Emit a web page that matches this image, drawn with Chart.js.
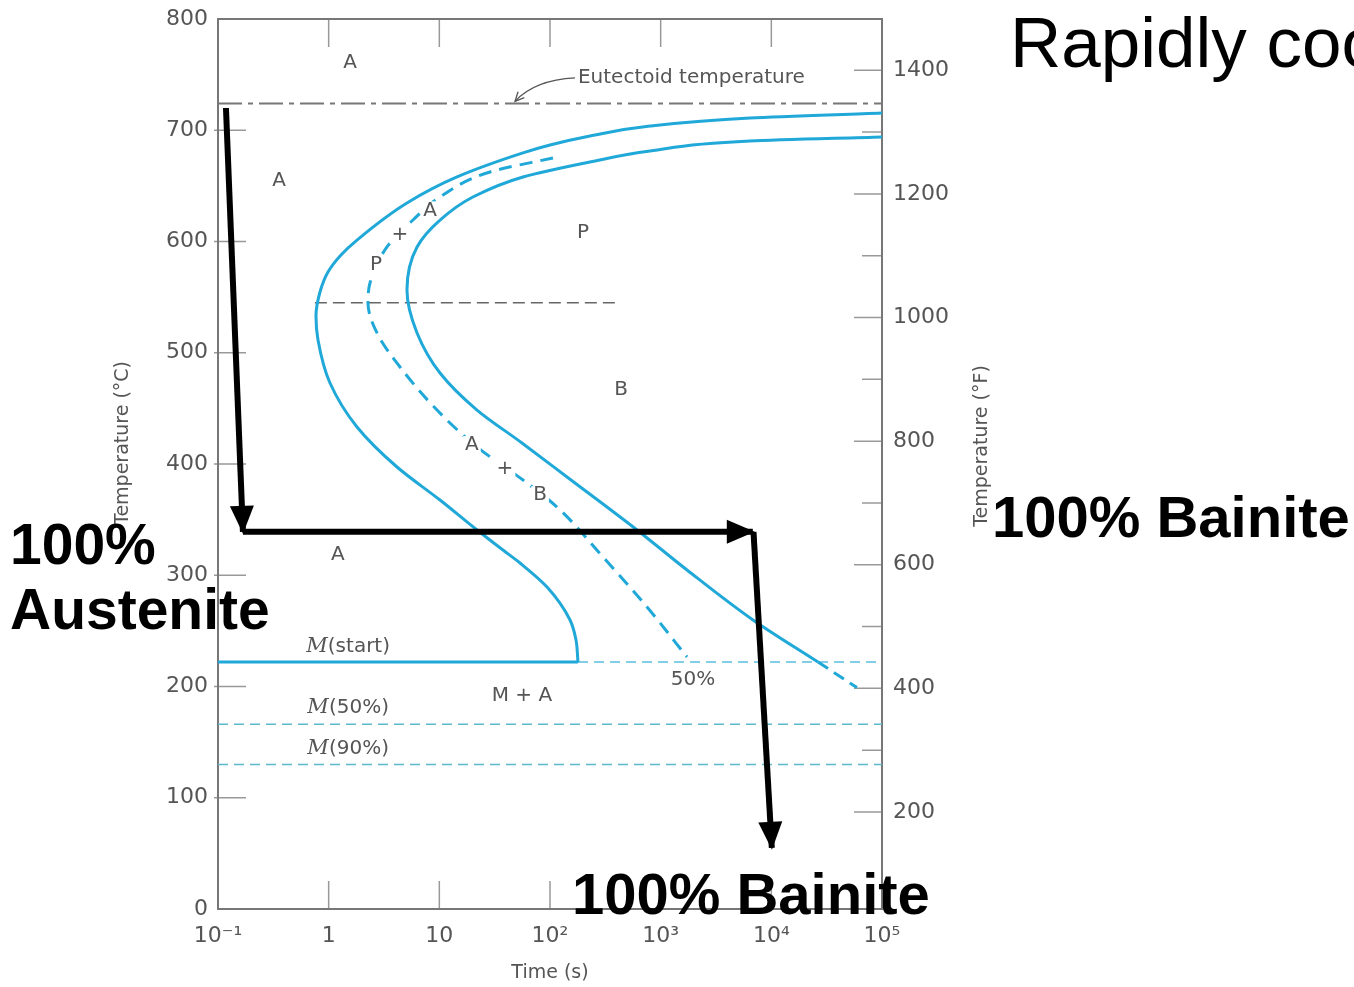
<!DOCTYPE html>
<html>
<head>
<meta charset="utf-8">
<script src="https://cdn.jsdelivr.net/npm/chart.js@4.4.0/dist/chart.umd.min.js"></script>
<style>
html, body { margin: 0; padding: 0; background: #fff; overflow: hidden; }
canvas { display: block; }
</style>
</head>
<body>
<canvas id="ttt" width="1354" height="987"></canvas>
<script>
// times in s, temperatures in °C
const startTime = [1e5, 6412, 801, 230, 100, 57, 14.45, 5.1, 1.803, 1.292, 0.986, 0.835, 0.768, 0.801, 1.028, 1.803, 4.145, 10.14, 21.9, 37.6, 53.6, 94, 151.7, 171.8, 179];
const startTemp = [715.5, 711, 703.8, 694.8, 686.7, 679.6, 658, 634.6, 601.3, 587.9, 572.6, 554.6, 533, 511.5, 472.8, 433.3, 397.3, 367.6, 340.7, 322.7, 311, 289.4, 259.8, 241.8, 222];
const halfTime = [106.4, 28.7, 10.14, 5.78, 3.365, 2.363, 2.267, 2.733, 4.412, 9.53, 21.9, 57, 115.7, 301.3, 752.5, 1730];
const halfTemp = [675.1, 662.5, 640, 619.3, 595.1, 562.7, 544.7, 517.8, 487.2, 448.5, 415.3, 385.6, 361.3, 316.4, 271.5, 226.5];
const finishTime = [1e5, 6412, 801, 230, 57, 20.1, 10.14, 6.29, 5.1, 6.29, 10.14, 21.9, 55.8, 142.5, 611, 1730, 6825, 26400];
const finishTemp = [693.9, 690.3, 681.3, 671.5, 658, 640, 619.3, 595.1, 556.4, 517.8, 481.8, 448.5, 418.9, 388.3, 340.7, 304.7, 259.8, 222];
const finishLowTime = [26400, 59400];
const finishLowTemp = [222, 199];

const msTemp = 222, m50Temp = 166, m90Temp = 130;
const eutectoidTemp = 724, noseTemp = 545;
const timeMin = 0.1, timeMax = 1e5;
const msSolidEnd = 179;
const noseLineTime = [0.75, 386];

// the cooling path drawn over the diagram
const coolTime = [0.118, 0.168];
const coolTemp = [720, 339];
const holdTime = [0.168, 6800];
const holdTemp = [339, 339];
const quenchTime = [6900, 10100];
const quenchTemp = [339, 55];

const timeTicks = [0.1, 1, 10, 100, 1000, 1e4, 1e5];
const timeTickLabels = ['10⁻¹', '1', '10', '10²', '10³', '10⁴', '10⁵'];
const celsiusTicks = [0, 100, 200, 300, 400, 500, 600, 700, 800];
const fahrenheitTicks = [200, 400, 600, 800, 1000, 1200, 1400];
const fahrenheitMinor = [300, 500, 700, 900, 1100, 1300];

const regionLabels = ['A', 'A', 'A', '+', 'P', 'P', 'B', 'A', '+', 'B', 'A', 'M + A', '50%'];
const regionTime = [1.56, 0.356, 8.24, 4.41, 2.68, 199, 438, 19.7, 39.2, 81.3, 1.21, 55.8, 1960];
const regionTemp = [761, 655, 628, 606, 579, 608, 467, 417, 396, 372, 318, 192, 206];
const martLabels = ['(start)', '(50%)', '(90%)'];
const martTemp = [236, 181, 144];
const martTime = 1.5;

const cyan = '#1fa8d8';

function pts(ts, ys) {
    return ts.map((t, i) => ({ x: t, y: ys[i] }));
}
function hline(t0, t1, y) {
    return [{ x: t0, y: y }, { x: t1, y: y }];
}
// C-curves: time is single valued in temperature, so interpolate along y
function cCurve(ts, ys, extra) {
    return Object.assign({
        data: pts(ts, ys),
        indexAxis: 'y',
        cubicInterpolationMode: 'monotone',
        borderColor: cyan,
        borderWidth: 3
    }, extra);
}

const tickFont = { family: 'DejaVu Sans', size: 22 };

const overlayPlugin = {
    id: 'overlay',
    beforeDatasetsDraw(chart) {
        const ctx = chart.ctx;
        const a = chart.chartArea;
        const sx = chart.scales.x, sy = chart.scales.y, sf = chart.scales.y2;
        ctx.save();
        ctx.strokeStyle = '#999';
        ctx.lineWidth = 1.5;
        ctx.beginPath();
        celsiusTicks.slice(1, -1).forEach(v => {
            const y = sy.getPixelForValue(v);
            ctx.moveTo(a.left - 4, y); ctx.lineTo(a.left + 28, y);
        });
        timeTicks.slice(1, -1).forEach(v => {
            const x = sx.getPixelForValue(v);
            ctx.moveTo(x, a.bottom); ctx.lineTo(x, a.bottom - 28);
            ctx.moveTo(x, a.top); ctx.lineTo(x, a.top + 28);
        });
        fahrenheitTicks.forEach(v => {
            const y = sf.getPixelForValue(v);
            ctx.moveTo(a.right, y); ctx.lineTo(a.right - 28, y);
        });
        fahrenheitMinor.forEach(v => {
            const y = sf.getPixelForValue(v);
            ctx.moveTo(a.right, y); ctx.lineTo(a.right - 20, y);
        });
        ctx.stroke();
        ctx.strokeStyle = '#777';
        ctx.lineWidth = 2;
        ctx.strokeRect(a.left, a.top, a.right - a.left, a.bottom - a.top);
        ctx.restore();
    },
    afterDatasetsDraw(chart) {
        const ctx = chart.ctx;
        const sx = chart.scales.x, sy = chart.scales.y;
        const px = t => sx.getPixelForValue(t);
        const py = v => sy.getPixelForValue(v);
        ctx.save();

        // arrow heads at the end of the black path segments
        chart.data.datasets.forEach(ds => {
            if (!ds.arrow) return;
            const d = ds.data;
            const p1 = d[d.length - 2], p2 = d[d.length - 1];
            const x1 = px(p1.x), y1 = py(p1.y), x2 = px(p2.x), y2 = py(p2.y);
            const ang = Math.atan2(y2 - y1, x2 - x1);
            ctx.save();
            ctx.translate(x2, y2);
            ctx.rotate(ang);
            ctx.fillStyle = '#000';
            ctx.beginPath();
            ctx.moveTo(2, 0);
            ctx.lineTo(-26, -12);
            ctx.lineTo(-26, 12);
            ctx.closePath();
            ctx.fill();
            ctx.restore();
        });

        // region labels
        ctx.font = '20px "DejaVu Sans"';
        ctx.textAlign = 'center';
        ctx.textBaseline = 'middle';
        regionLabels.forEach((s, i) => {
            const x = px(regionTime[i]), y = py(regionTemp[i]);
            const w = ctx.measureText(s).width;
            if (s.length === 1) {
                ctx.fillStyle = '#fff';
                ctx.fillRect(x - w / 2 - 2, y - 9, w + 4, 18);
            }
            ctx.fillStyle = '#555';
            ctx.fillText(s, x, y);
        });

        // martensite labels: italic M + text
        martLabels.forEach((s, i) => {
            ctx.font = 'italic 21px "DejaVu Serif"';
            const wm = ctx.measureText('M').width;
            ctx.font = '20px "DejaVu Sans"';
            const wt = ctx.measureText(s).width;
            const x0 = px(martTime) - (wm + wt) / 2, y = py(martTemp[i]);
            ctx.textAlign = 'left';
            ctx.fillStyle = '#555';
            ctx.font = 'italic 21px "DejaVu Serif"';
            ctx.fillText('M', x0, y);
            ctx.font = '20px "DejaVu Sans"';
            ctx.fillText(s, x0 + wm, y);
        });

        // eutectoid annotation
        const tx = px(168), ty = py(747);
        const hx = px(48.3), hy = py(eutectoidTemp + 2);
        ctx.strokeStyle = '#555';
        ctx.lineWidth = 1.3;
        ctx.beginPath();
        ctx.moveTo(tx, ty);
        ctx.quadraticCurveTo(tx - 40, ty + 2, hx, hy);
        ctx.stroke();
        const ang = Math.atan2(hy - (ty + 2), hx - (tx - 40));
        ctx.beginPath();
        ctx.moveTo(hx + 10 * Math.cos(ang + 2.7), hy + 10 * Math.sin(ang + 2.7));
        ctx.lineTo(hx, hy);
        ctx.lineTo(hx + 10 * Math.cos(ang - 2.7), hy + 10 * Math.sin(ang - 2.7));
        ctx.stroke();
        ctx.fillStyle = '#555';
        ctx.font = '20px "DejaVu Sans"';
        ctx.textAlign = 'left';
        ctx.fillText('Eutectoid temperature', tx + 3, ty);

        // axis titles
        ctx.font = '19px "DejaVu Sans"';
        ctx.textAlign = 'center';
        ctx.fillStyle = '#555';
        ctx.fillText('Time (s)', 550, 973);
        ctx.save();
        ctx.translate(123, 443);
        ctx.rotate(-Math.PI / 2);
        ctx.fillText('Temperature (°C)', 0, 0);
        ctx.restore();
        ctx.save();
        ctx.translate(982, 446);
        ctx.rotate(-Math.PI / 2);
        ctx.fillText('Temperature (°F)', 0, 0);
        ctx.restore();

        // slide text
        ctx.fillStyle = '#000';
        ctx.textAlign = 'left';
        ctx.textBaseline = 'alphabetic';
        ctx.font = 'bold 57px "Liberation Sans"';
        ctx.fillText('100%', 10, 564);
        ctx.fillText('Austenite', 10, 629);
        ctx.font = 'bold 58px "Liberation Sans"';
        ctx.fillText('100% Bainite', 572, 914);
        ctx.fillText('100% Bainite', 992, 537);
        ctx.font = '71px "Liberation Sans"';
        ctx.fillText('Rapidly cooled', 1010, 67);
        ctx.restore();
    }
};

function noPad(s) {
    s.paddingTop = 0;
    s.paddingBottom = 0;
}

new Chart(document.getElementById('ttt'), {
    type: 'scatter',
    data: {
        datasets: [
            { data: pts(coolTime, coolTemp), arrow: true, borderColor: '#000', borderWidth: 6 },
            { data: pts(holdTime, holdTemp), arrow: true, borderColor: '#000', borderWidth: 6 },
            { data: pts(quenchTime, quenchTemp), arrow: true, borderColor: '#000', borderWidth: 6 },
            cCurve(startTime, startTemp),
            cCurve(halfTime, halfTemp, { borderDash: [13, 8] }),
            cCurve(finishTime, finishTemp),
            { data: pts(finishLowTime, finishLowTemp), borderColor: cyan, borderWidth: 3, borderDash: [12, 7] },
            { data: hline(timeMin, msSolidEnd, msTemp), borderColor: cyan, borderWidth: 3 },
            { data: hline(msSolidEnd, timeMax, msTemp), borderColor: '#5bbfdc', borderWidth: 1.5, borderDash: [10, 6] },
            { data: hline(timeMin, timeMax, m50Temp), borderColor: '#5cb9c9', borderWidth: 1.5, borderDash: [10, 6] },
            { data: hline(timeMin, timeMax, m90Temp), borderColor: '#5cb9c9', borderWidth: 1.5, borderDash: [10, 6] },
            { data: hline(noseLineTime[0], noseLineTime[1], noseTemp), borderColor: '#666', borderWidth: 1.5, borderDash: [12, 6] },
            { data: hline(timeMin, timeMax, eutectoidTemp), borderColor: '#777', borderWidth: 2, borderDash: [24, 6, 5, 6] }
        ]
    },
    options: {
        responsive: false,
        animation: false,
        showLine: true,
        layout: { padding: { top: 19, left: 0, right: 0, bottom: 0 } },
        elements: { point: { radius: 0 }, line: { tension: 0 } },
        plugins: { legend: { display: false }, tooltip: { enabled: false } },
        scales: {
            x: {
                type: 'logarithmic',
                min: timeMin,
                max: timeMax,
                grid: { display: false, drawTicks: false },
                border: { display: false },
                afterBuildTicks: s => { s.ticks = timeTicks.map(v => ({ value: v })); },
                afterFit: s => { s.height = 78; s.paddingLeft = 0; s.paddingRight = 0; },
                ticks: {
                    autoSkip: false, maxRotation: 0, padding: 14,
                    color: '#555', font: tickFont,
                    callback: (v, i) => timeTickLabels[i]
                }
            },
            y: {
                min: 0,
                max: 800,
                grid: { display: false, drawTicks: false },
                border: { display: false },
                afterBuildTicks: s => { s.ticks = celsiusTicks.map(v => ({ value: v })); },
                afterFit: s => { s.width = 218; noPad(s); },
                ticks: { padding: 10, color: '#555', font: tickFont }
            },
            y2: {
                position: 'right',
                min: 43,
                max: 1483,
                grid: { display: false, drawTicks: false },
                border: { display: false },
                afterBuildTicks: s => { s.ticks = fahrenheitTicks.map(v => ({ value: v })); },
                afterFit: s => { s.width = 472; noPad(s); },
                ticks: { padding: 11, color: '#555', font: tickFont, callback: v => String(v) }
            }
        }
    },
    plugins: [overlayPlugin]
});
</script>
</body>
</html>
